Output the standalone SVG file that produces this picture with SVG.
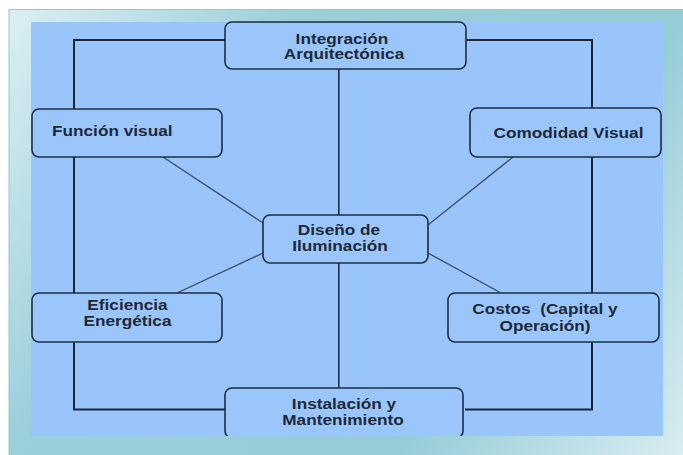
<svg xmlns="http://www.w3.org/2000/svg" width="683" height="455" viewBox="0 0 683 455">
  <defs>
    <linearGradient id="panelGrad" gradientUnits="userSpaceOnUse" x1="9" y1="10" x2="683" y2="455">
      <stop offset="0" stop-color="#dbeff3"/>
      <stop offset="0.3" stop-color="#9bcfd9"/>
      <stop offset="0.7" stop-color="#95ccd6"/>
      <stop offset="1" stop-color="#d8ecf1"/>
    </linearGradient>
    <clipPath id="blueClip">
      <rect x="31" y="22" width="632" height="414"/>
    </clipPath>
  </defs>
  <style>
    .box { fill: #9ac6fb; stroke: #1f2c42; stroke-width: 1.6; }
    .lbl { font-family: "Liberation Sans", Arial, Helvetica, sans-serif; font-weight: bold; font-size: 14px; fill: #1e2939; }
    .mid { text-anchor: middle; }
    .loop { fill: none; stroke: #1b2638; stroke-width: 2; }
    .spoke { fill: none; stroke: #3d4c63; stroke-width: 1.3; }
    .axis { fill: none; stroke: #1f2b3f; stroke-width: 1.6; }
  </style>

  <rect x="0" y="0" width="683" height="455" fill="#ffffff"/>
  <rect x="9" y="9.5" width="680" height="450" fill="url(#panelGrad)" stroke="#8ecad4" stroke-width="1"/>
  <rect x="31" y="22" width="632" height="414" fill="#99c5fb"/>

  <g id="connectors">
    <polyline class="loop" points="225,40 74,40 74,109"/>
    <line class="loop" x1="74" y1="157" x2="74" y2="293"/>
    <polyline class="loop" points="74,342 74,409.5 225,409.5"/>
    <polyline class="loop" points="466,40 592,40 592,108"/>
    <line class="loop" x1="592" y1="157" x2="592" y2="293"/>
    <polyline class="loop" points="592,342 592,409.5 465,409.5"/>
    <line class="axis" x1="338.8" y1="69" x2="338.8" y2="215"/>
    <line class="axis" x1="338.8" y1="263" x2="338.8" y2="388"/>
    <line class="spoke" x1="163" y1="157" x2="263" y2="223"/>
    <line class="spoke" x1="513" y1="157" x2="428" y2="225"/>
    <line class="spoke" x1="263" y1="253" x2="177" y2="293"/>
    <line class="spoke" x1="428" y1="253" x2="501" y2="293"/>
  </g>

  <g id="integracion">
    <rect class="box" x="225" y="22" width="241" height="47" rx="7"/>
    <text class="lbl mid" transform="translate(342,43.5) scale(1.23,1)">Integración</text>
    <text class="lbl mid" transform="translate(344,58.5) scale(1.23,1)">Arquitectónica</text>
  </g>

  <g id="funcion">
    <rect class="box" x="32" y="109" width="190" height="48" rx="7"/>
    <text class="lbl" transform="translate(52,136) scale(1.23,1)">Función visual</text>
  </g>

  <g id="comodidad">
    <rect class="box" x="470" y="108" width="191" height="49" rx="7"/>
    <text class="lbl mid" transform="translate(568.5,138) scale(1.23,1)">Comodidad Visual</text>
  </g>

  <g id="diseno">
    <rect class="box" x="263" y="215" width="165" height="48" rx="7"/>
    <text class="lbl mid" transform="translate(339,234.5) scale(1.23,1)">Diseño de</text>
    <text class="lbl mid" transform="translate(340,250.5) scale(1.23,1)">Iluminación</text>
  </g>

  <g id="eficiencia">
    <rect class="box" x="32" y="293" width="190" height="49" rx="7"/>
    <text class="lbl mid" transform="translate(127.5,309.5) scale(1.23,1)">Eficiencia</text>
    <text class="lbl mid" transform="translate(127.5,326) scale(1.23,1)">Energética</text>
  </g>

  <g id="costos">
    <rect class="box" x="448" y="293" width="211" height="49" rx="7"/>
    <text class="lbl mid" xml:space="preserve" transform="translate(545,314) scale(1.23,1)">Costos  (Capital y</text>
    <text class="lbl mid" transform="translate(545,330.5) scale(1.23,1)">Operación)</text>
  </g>

  <g id="instalacion" clip-path="url(#blueClip)">
    <rect class="box" x="225" y="388" width="238" height="50" rx="7"/>
    <text class="lbl mid" transform="translate(344,409) scale(1.23,1)">Instalación y</text>
    <text class="lbl mid" transform="translate(343,425) scale(1.23,1)">Mantenimiento</text>
  </g>
</svg>
